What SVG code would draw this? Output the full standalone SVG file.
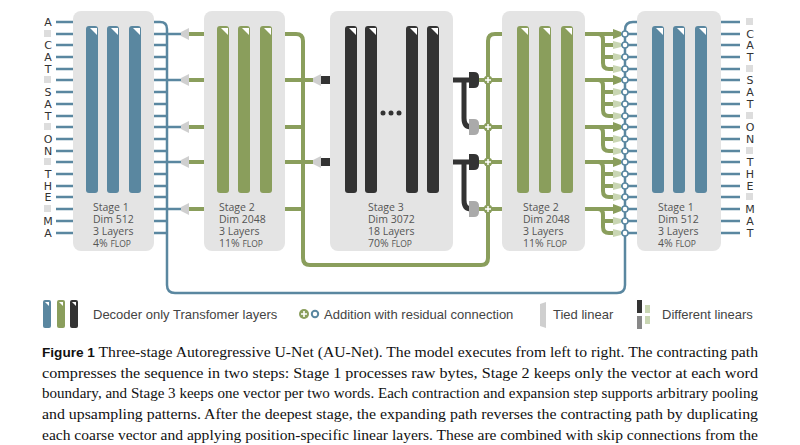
<svg xmlns="http://www.w3.org/2000/svg" width="800" height="445" viewBox="0 0 800 445">
<style>
.box{fill:#e4e4e4}
.b{fill:#5a87a0}.g{fill:#8a9e5c}.d{fill:#333}
.bl{stroke:#5a87a0;stroke-width:2.5;fill:none}
.gl{stroke:#8a9e5c;stroke-width:4;fill:none}
.dl{stroke:#333;stroke-width:5;fill:none}
.tok{font-family:"DejaVu Sans","Liberation Sans",sans-serif;font-size:11px;fill:#333;text-anchor:middle}
.lab{font-family:"Open Sans","Liberation Sans",sans-serif;font-size:10.5px;fill:#555}
.sm{font-size:8.5px}
.leg{font-family:"Liberation Sans Narrow","Liberation Sans",sans-serif;font-size:13px;fill:#444}
.cap{font-family:"Liberation Serif",serif;font-size:15px;fill:#111}
.tie{fill:#cfcfcf}
.pg{fill:#c9d6b3}
.tri{fill:#fff}
</style>
<defs>
<g id="tri"><polygon points="4,2 11,2 11,9" class="tri"/></g>
</defs>
<rect width="800" height="445" fill="#fff"/>

<g id="connectors">
<path class="bl" d="M56,22H73M56,34H73M56,45H73M56,57H73M56,69H73M56,80H73M56,92H73M56,104H73M56,116H73M56,127H73M56,139H73M56,151H73M56,162H73M56,174H73M56,186H73M56,197H73M56,209H73M56,221H73M56,233H73"/>
<path class="bl" d="M154,34H181M154,45H167M154,57H167M154,69H167M154,80H181M154,92H167M154,104H167M154,116H167M154,127H181M154,139H167M154,151H167M154,162H181M154,174H167M154,186H167M154,197H167M154,209H181M154,221H167M154,233H167"/>
<path class="bl" d="M154,22H160Q167,22 167,29V285Q167,293 175,293H617Q625,293 625,285V30Q625,22 633,22H637"/>
<path class="gl" d="M189,34H204M189,80H204M189,127H204M189,162H204M189,209H204"/>
<g class="tie">
<polygon points="181,32 189,28 189,40 181,36"/><polygon points="181,78 189,74 189,86 181,82"/><polygon points="181,125 189,121 189,133 181,129"/><polygon points="181,160 189,156 189,168 181,164"/><polygon points="181,207 189,203 189,215 181,211"/>
</g>
<path class="gl" d="M285,80H313M285,127H303M285,162H313M285,209H303"/>
<path class="gl" d="M285,34H296Q303,34 303,41V258Q303,265 310,265H481Q488,265 488,258V41Q488,34 495,34H502"/>
<g class="tie"><polygon points="313,78 321,74 321,86 313,82"/><polygon points="313,160 321,156 321,168 313,164"/></g>
<rect class="d" x="321" y="76" width="9" height="8"/><rect class="d" x="321" y="158" width="9" height="8"/>
<path class="dl" d="M453,80H470M453,162H470"/>
<path class="dl" d="M464,80V118Q464,127 471,127M464,162V200Q464,209 471,209"/>
<path class="d" d="M469,72H474Q479,72 479,77V83Q479,88 474,88H469Z"/>
<path class="d" d="M469,154H474Q479,154 479,159V165Q479,170 474,170H469Z"/>
<path fill="#aaa" d="M469,119H474Q479,119 479,124V130Q479,135 474,135H469Z"/>
<path fill="#aaa" d="M469,201H474Q479,201 479,206V212Q479,217 474,217H469Z"/>
<path class="gl" d="M479,80H502M479,127H502M479,162H502M479,209H502"/>
<g>
<circle cx="488" cy="80" r="4.5" fill="#8a9e5c"/><circle cx="488" cy="127" r="4.5" fill="#8a9e5c"/><circle cx="488" cy="162" r="4.5" fill="#8a9e5c"/><circle cx="488" cy="209" r="4.5" fill="#8a9e5c"/>
<path stroke="#fff" stroke-width="1.5" d="M485,80h6M488,77v6M485,127h6M488,124v6M485,162h6M488,159v6M485,209h6M488,206v6"/>
</g>
<path class="gl" d="M585,34H614M585,80H614M585,127H614M585,162H614M585,209H614"/>
<path class="gl" stroke-width="3" d="M598,34Q603,34 603,40V63Q603,69 609,69H614M603,45Q603,45 609,45H614M603,57H614
M598,80Q603,80 603,86V110Q603,116 609,116H614M603,92H614M603,104H614
M598,127Q603,127 603,133V145Q603,151 609,151H614M603,139H614
M598,162Q603,162 603,168V191Q603,197 609,197H614M603,174H614M603,186H614
M598,209Q603,209 603,215V227Q603,233 609,233H614M603,221H614"/>
<g class="g"><polygon points="613,29 621,32 621,36 613,39"/><polygon points="613,75 621,78 621,82 613,85"/><polygon points="613,122 621,125 621,129 613,132"/><polygon points="613,157 621,160 621,164 613,167"/><polygon points="613,204 621,207 621,211 613,214"/></g>
<g class="pg">
<polygon points="613,41 621,43 621,47 613,49"/><polygon points="613,53 621,55 621,59 613,61"/><polygon points="613,65 621,67 621,71 613,73"/>
<polygon points="613,88 621,90 621,94 613,96"/><polygon points="613,100 621,102 621,106 613,108"/><polygon points="613,112 621,114 621,118 613,120"/>
<polygon points="613,135 621,137 621,141 613,143"/><polygon points="613,147 621,149 621,153 613,155"/>
<polygon points="613,170 621,172 621,176 613,178"/><polygon points="613,182 621,184 621,188 613,190"/><polygon points="613,193 621,195 621,199 613,201"/>
<polygon points="613,217 621,219 621,223 613,225"/><polygon points="613,229 621,231 621,235 613,237"/>
</g>
<path class="bl" d="M621,34H637M621,45H637M621,57H637M621,69H637M621,80H637M621,92H637M621,104H637M621,116H637M621,127H637M621,139H637M621,151H637M621,162H637M621,174H637M621,186H637M621,197H637M621,209H637M621,221H637M621,233H637"/>
<g fill="#fff" stroke="#5a87a0" stroke-width="1.5">
<circle cx="625" cy="34" r="3"/><circle cx="625" cy="45" r="3"/><circle cx="625" cy="57" r="3"/><circle cx="625" cy="69" r="3"/><circle cx="625" cy="80" r="3"/><circle cx="625" cy="92" r="3"/><circle cx="625" cy="104" r="3"/><circle cx="625" cy="116" r="3"/><circle cx="625" cy="127" r="3"/><circle cx="625" cy="139" r="3"/><circle cx="625" cy="151" r="3"/><circle cx="625" cy="162" r="3"/><circle cx="625" cy="174" r="3"/><circle cx="625" cy="186" r="3"/><circle cx="625" cy="197" r="3"/><circle cx="625" cy="209" r="3"/><circle cx="625" cy="221" r="3"/><circle cx="625" cy="233" r="3"/>
</g>
<path class="bl" d="M721,22H740M721,34H740M721,45H740M721,57H740M721,69H740M721,80H740M721,92H740M721,104H740M721,116H740M721,127H740M721,139H740M721,151H740M721,162H740M721,174H740M721,186H740M721,197H740M721,209H740M721,221H740M721,233H740"/>
</g>

<g id="tokens-left" class="tok">
<text x="48" y="26">A</text><rect x="44" y="30" width="7" height="7" fill="#ddd"/><text x="48" y="49">C</text><text x="48" y="61">A</text><text x="48" y="73">T</text><rect x="44" y="76" width="7" height="7" fill="#ddd"/><text x="48" y="96">S</text><text x="48" y="108">A</text><text x="48" y="120">T</text><rect x="44" y="123" width="7" height="7" fill="#ddd"/><text x="48" y="143">O</text><text x="48" y="155">N</text><rect x="44" y="158" width="7" height="7" fill="#ddd"/><text x="48" y="178">T</text><text x="48" y="190">H</text><text x="48" y="201">E</text><rect x="44" y="205" width="7" height="7" fill="#ddd"/><text x="48" y="225">M</text><text x="48" y="237">A</text>
</g>
<g id="tokens-right" class="tok">
<rect x="746" y="18" width="7" height="7" fill="#ddd"/><text x="750" y="38">C</text><text x="750" y="49">A</text><text x="750" y="61">T</text><rect x="746" y="65" width="7" height="7" fill="#ddd"/><text x="750" y="84">S</text><text x="750" y="96">A</text><text x="750" y="108">T</text><rect x="746" y="112" width="7" height="7" fill="#ddd"/><text x="750" y="131">O</text><text x="750" y="143">N</text><rect x="746" y="147" width="7" height="7" fill="#ddd"/><text x="750" y="166">T</text><text x="750" y="178">H</text><text x="750" y="190">E</text><rect x="746" y="193" width="7" height="7" fill="#ddd"/><text x="750" y="213">M</text><text x="750" y="225">A</text><text x="750" y="237">T</text>
</g>

<g id="stage1-left">
<rect class="box" x="73" y="11" width="81" height="240" rx="8"/>
<rect class="b" x="86" y="26" width="12" height="167" rx="3"/><rect class="b" x="107" y="26" width="12" height="167" rx="3"/><rect class="b" x="129" y="26" width="12" height="167" rx="3"/>
<use href="#tri" x="86" y="26"/><use href="#tri" x="107" y="26"/><use href="#tri" x="129" y="26"/>
<text class="lab" x="93" y="211">Stage 1</text><text class="lab" x="93" y="223">Dim 512</text><text class="lab" x="93" y="235">3 Layers</text><text class="lab" x="93" y="247">4% <tspan class="sm">FLOP</tspan></text>
</g>
<g id="stage2-left">
<rect class="box" x="204" y="11" width="81" height="240" rx="8"/>
<rect class="g" x="217" y="26" width="12" height="167" rx="3"/><rect class="g" x="238" y="26" width="12" height="167" rx="3"/><rect class="g" x="260" y="26" width="12" height="167" rx="3"/>
<use href="#tri" x="217" y="26"/><use href="#tri" x="238" y="26"/><use href="#tri" x="260" y="26"/>
<text class="lab" x="219" y="211">Stage 2</text><text class="lab" x="219" y="223">Dim 2048</text><text class="lab" x="219" y="235">3 Layers</text><text class="lab" x="219" y="247">11% <tspan class="sm">FLOP</tspan></text>
</g>
<g id="stage3">
<rect class="box" x="330" y="11" width="123" height="240" rx="8"/>
<rect class="d" x="345" y="26" width="12" height="167" rx="3"/><rect class="d" x="365" y="26" width="12" height="167" rx="3"/><rect class="d" x="406" y="26" width="12" height="167" rx="3"/><rect class="d" x="427" y="26" width="12" height="167" rx="3"/>
<use href="#tri" x="345" y="26"/><use href="#tri" x="365" y="26"/><use href="#tri" x="406" y="26"/><use href="#tri" x="427" y="26"/>
<circle class="d" cx="383" cy="113" r="2.5"/><circle class="d" cx="391" cy="113" r="2.5"/><circle class="d" cx="399" cy="113" r="2.5"/>
<text class="lab" x="368" y="211">Stage 3</text><text class="lab" x="368" y="223">Dim 3072</text><text class="lab" x="368" y="235">18 Layers</text><text class="lab" x="368" y="247">70% <tspan class="sm">FLOP</tspan></text>
</g>
<g id="stage2-right">
<rect class="box" x="502" y="11" width="83" height="240" rx="8"/>
<rect class="g" x="517" y="26" width="12" height="167" rx="3"/><rect class="g" x="539" y="26" width="12" height="167" rx="3"/><rect class="g" x="561" y="26" width="12" height="167" rx="3"/>
<use href="#tri" x="517" y="26"/><use href="#tri" x="539" y="26"/><use href="#tri" x="561" y="26"/>
<text class="lab" x="523" y="211">Stage 2</text><text class="lab" x="523" y="223">Dim 2048</text><text class="lab" x="523" y="235">3 Layers</text><text class="lab" x="523" y="247">11% <tspan class="sm">FLOP</tspan></text>
</g>
<g id="stage1-right">
<rect class="box" x="637" y="11" width="84" height="240" rx="8"/>
<rect class="b" x="652" y="26" width="12" height="167" rx="3"/><rect class="b" x="673" y="26" width="12" height="167" rx="3"/><rect class="b" x="695" y="26" width="12" height="167" rx="3"/>
<use href="#tri" x="652" y="26"/><use href="#tri" x="673" y="26"/><use href="#tri" x="695" y="26"/>
<text class="lab" x="658" y="211">Stage 1</text><text class="lab" x="658" y="223">Dim 512</text><text class="lab" x="658" y="235">3 Layers</text><text class="lab" x="658" y="247">4% <tspan class="sm">FLOP</tspan></text>
</g>

<g id="legend">
<rect class="b" x="43" y="300" width="8" height="28" rx="2"/><rect class="g" x="57" y="300" width="8" height="28" rx="2"/><rect class="d" x="70" y="300" width="8" height="28" rx="2"/>
<polygon class="tri" points="45,302 49,302 49,306"/><polygon class="tri" points="59,302 63,302 63,306"/><polygon class="tri" points="72,302 76,302 76,306"/>
<text class="leg" x="93" y="319">Decoder only Transfomer layers</text>
<circle cx="304" cy="314" r="5" fill="#8a9e5c"/><path stroke="#fff" stroke-width="1.6" d="M301,314h6M304,311v6"/>
<circle cx="315" cy="314" r="3.2" fill="#fff" stroke="#5a87a0" stroke-width="2"/>
<text class="leg" x="324" y="319">Addition with residual connection</text>
<polygon class="tie" points="540,304 546,302 546,328 540,326"/>
<text class="leg" x="553" y="319">Tied linear</text>
<rect class="d" x="637" y="300" width="5" height="13"/><rect fill="#888" x="637" y="316" width="5" height="13"/>
<rect class="pg" x="645" y="305" width="5" height="8"/><rect class="pg" x="645" y="316" width="5" height="8"/>
<text class="leg" x="662" y="319">Different linears</text>
</g>

<g id="caption" class="cap">
<text x="42" y="357" textLength="716" lengthAdjust="spacingAndGlyphs"><tspan font-family="Liberation Sans,sans-serif" font-weight="bold" font-size="13">Figure 1</tspan> Three-stage Autoregressive U-Net (AU-Net). The model executes from left to right. The contracting path</text>
<text x="42" y="378" textLength="716" lengthAdjust="spacingAndGlyphs">compresses the sequence in two steps: Stage 1 processes raw bytes, Stage 2 keeps only the vector at each word</text>
<text x="42" y="398" textLength="716" lengthAdjust="spacingAndGlyphs">boundary, and Stage 3 keeps one vector per two words. Each contraction and expansion step supports arbitrary pooling</text>
<text x="42" y="419" textLength="716" lengthAdjust="spacingAndGlyphs">and upsampling patterns. After the deepest stage, the expanding path reverses the contracting path by duplicating</text>
<text x="42" y="440" textLength="716" lengthAdjust="spacingAndGlyphs">each coarse vector and applying position-specific linear layers. These are combined with skip connections from the</text>
<text x="42" y="460" textLength="716" lengthAdjust="spacingAndGlyphs">contracting path, gradually restoring sequence length and blending in high-level information. Deeper stages predict</text>
</g>
</svg>
